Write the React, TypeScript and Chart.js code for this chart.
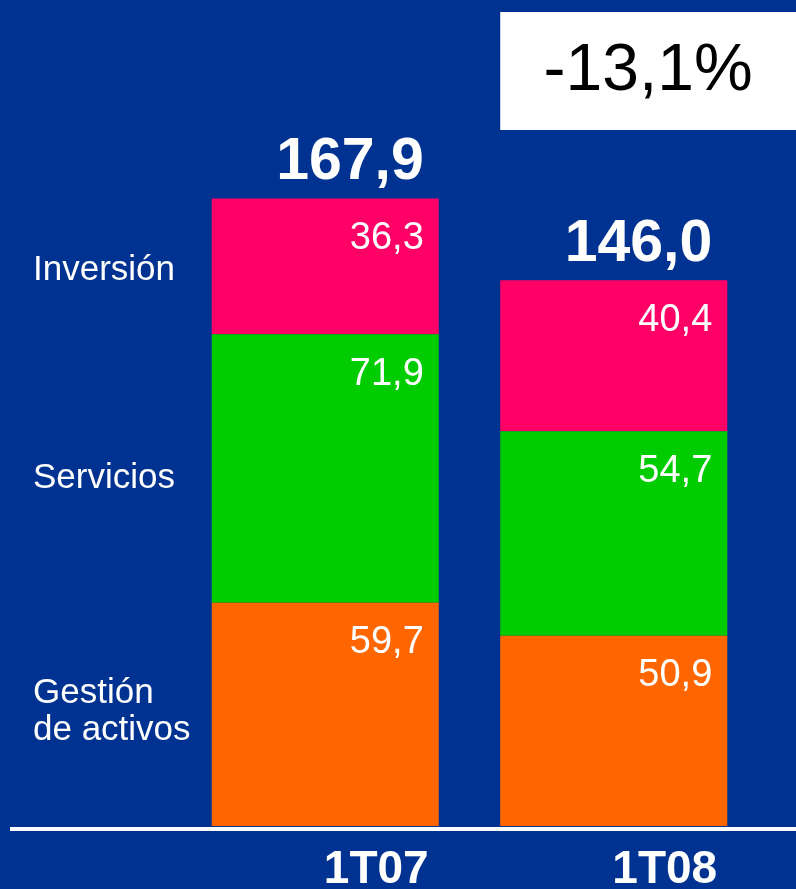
import React, { useEffect, useRef } from "react";
import { Chart, registerables } from "chart.js";

Chart.register(...registerables);

const categories = ["1T07", "1T08"];
const seriesNames = ["Gestión de activos", "Servicios", "Inversión"];
const gestion = [59.7, 50.9];
const servicios = [71.9, 54.7];
const inversion = [36.3, 40.4];
const changeLabel = "-13,1%";

const BG = "#003391";
const COLORS = ["#FF6600", "#00CC00", "#FF0066"];
const FONT = "'Liberation Sans', Arial, sans-serif";

const fmt = (v: number) => v.toFixed(1).replace(".", ",");

const labelsPlugin = {
  id: "customLabels",
  afterDatasetsDraw(chart: any) {
    const ctx = chart.ctx;
    const yScale = chart.scales.y;
    const metas = chart.data.datasets.map((_: any, i: number) => chart.getDatasetMeta(i));
    ctx.save();
    // segment values
    ctx.fillStyle = "#FFFFFF";
    ctx.textAlign = "right";
    ctx.textBaseline = "middle";
    ctx.font = `38px ${FONT}`;
    metas.forEach((meta: any, di: number) => {
      meta.data.forEach((el: any, j: number) => {
        const v = chart.data.datasets[di].data[j];
        ctx.fillText(fmt(v), el.x + el.width / 2 - 15, el.y + 40);
      });
    });
    // totals
    ctx.font = `bold 59px ${FONT}`;
    const top = metas[metas.length - 1];
    categories.forEach((_, j) => {
      const el = top.data[j];
      const total = chart.data.datasets.reduce((s: number, d: any) => s + d.data[j], 0);
      ctx.fillText(fmt(total), el.x + el.width / 2 - 15, el.y - 36);
    });
    // left series labels, aligned to first bar segments
    ctx.textAlign = "left";
    ctx.font = `35px ${FONT}`;
    const m0 = metas[0].data[0];
    const m1 = metas[1].data[0];
    const m2 = metas[2].data[0];
    ctx.fillText("Inversión", 33, (m2.y + m2.base) / 2 + 4);
    ctx.fillText("Servicios", 33, (m1.y + m1.base) / 2 + 10);
    ctx.fillText("Gestión", 33, (m0.y + m0.base) / 2 - 21);
    ctx.fillText("de activos", 33, (m0.y + m0.base) / 2 + 16);
    // baseline
    const y0 = yScale.getPixelForValue(0);
    ctx.fillStyle = "#FFFFFF";
    ctx.fillRect(10, y0 + 1, chart.width - 10, 4);
    // category labels
    ctx.textAlign = "center";
    ctx.textBaseline = "alphabetic";
    ctx.font = `bold 46px ${FONT}`;
    metas[0].data.forEach((el: any, j: number) => {
      ctx.fillText(categories[j], el.x + 51, 883);
    });
    // change box
    const b2 = metas[0].data[1];
    const bx = b2.x - b2.width / 2;
    ctx.fillStyle = "#FFFFFF";
    ctx.fillRect(bx, 12, chart.width - bx, 118);
    ctx.fillStyle = "#000000";
    ctx.font = `66px ${FONT}`;
    ctx.textBaseline = "middle";
    ctx.fillText(changeLabel, bx + (chart.width - bx) / 2, 72);
    ctx.restore();
  },
};

export default function App() {
  const ref = useRef<HTMLCanvasElement>(null);
  useEffect(() => {
    document.body.style.margin = "0";
    const chart = new Chart(ref.current!, {
      type: "bar",
      data: {
        labels: categories,
        datasets: [gestion, servicios, inversion].map((d, i) => ({
          label: seriesNames[i],
          data: d,
          backgroundColor: COLORS[i],
          borderWidth: 0,
          barPercentage: 1,
          categoryPercentage: 0.787,
        })),
      },
      options: {
        animation: false,
        responsive: false,
        maintainAspectRatio: false,
        layout: { padding: { left: 181, right: 38, top: 0, bottom: 63 } },
        plugins: { legend: { display: false }, tooltip: { enabled: false } },
        scales: {
          x: { stacked: true, display: false },
          y: { stacked: true, display: false, min: 0, max: 221 },
        },
      },
      plugins: [labelsPlugin],
    });
    return () => chart.destroy();
  }, []);
  return (
    <div style={{ position: "absolute", left: 0, top: 0, width: 796, height: 889, background: BG }}>
      <canvas ref={ref} width={796} height={889} style={{ width: 796, height: 889, display: "block" }} />
    </div>
  );
}
